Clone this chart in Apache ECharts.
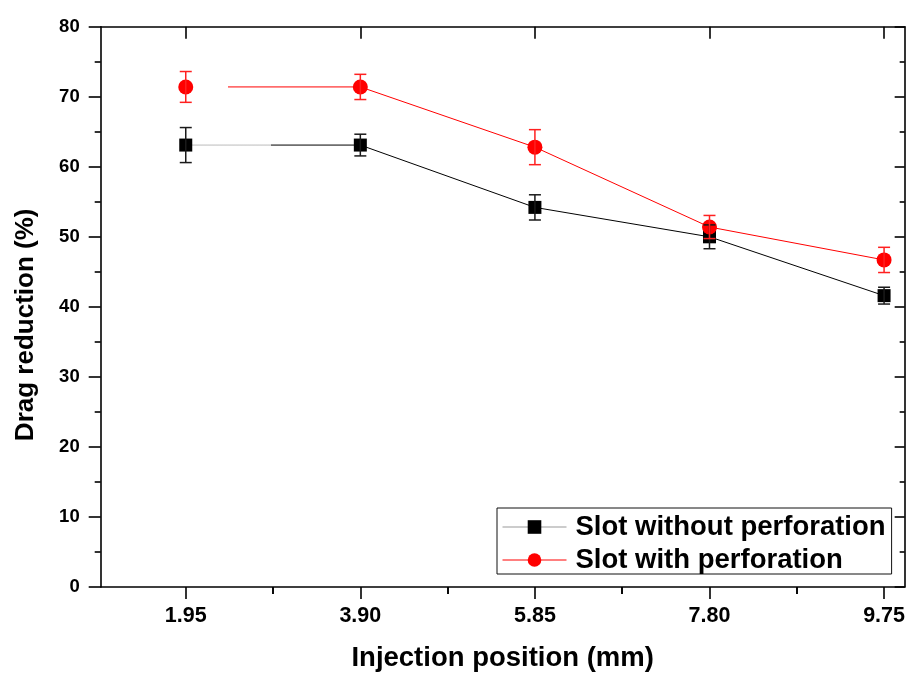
<!DOCTYPE html>
<html>
<head>
<meta charset="utf-8">
<script src="https://cdn.jsdelivr.net/npm/echarts@6/dist/echarts.min.js"></script>
<style>
  html, body { margin: 0; padding: 0; background: #fff; }
  #chart { width: 908px; height: 677px; }
</style>
</head>
<body>
<div id="chart"></div>
<script>
// Injection positions (mm) and the tick marks of the x axis
const positions = [1.95, 3.90, 5.85, 7.80, 9.75];
const minorPositions = [2.925, 4.875, 6.825, 8.775];

// Drag reduction (%) with error-bar half widths
const withoutPerf = [63.1, 63.1, 54.2, 50.0, 41.6];
const withoutPerfErr = [2.5, 1.55, 1.8, 1.7, 1.2];
const withPerf = [71.4, 71.4, 62.8, 51.4, 46.7];
const withPerfErr = [2.2, 1.8, 2.5, 1.65, 1.8];

const seriesNames = ['Slot without perforation', 'Slot with perforation'];

const FONT = '"Liberation Sans", Arial, sans-serif';
const AXIS = '#000';

function pairs(xs, ys) { return xs.map((x, i) => [x, ys[i]]); }

// Vertical error bars with caps, placed through the axes' own scales
function errorBars(name, values, errors, color) {
  return {
    type: 'custom',
    name: name,
    silent: true,
    z: 4,
    data: positions.map((x, i) => [x, values[i] - errors[i], values[i] + errors[i]]),
    encode: { x: 0, y: [1, 2] },
    renderItem: function (params, api) {
      const x = api.value(0);
      const lo = api.coord([x, api.value(1)]);
      const hi = api.coord([x, api.value(2)]);
      const half = 6;
      const style = { stroke: color, lineWidth: 1.5 };
      return {
        type: 'group',
        children: [
          { type: 'line', shape: { x1: lo[0], y1: lo[1], x2: hi[0], y2: hi[1] }, style: style },
          { type: 'line', shape: { x1: lo[0] - half, y1: lo[1], x2: lo[0] + half, y2: lo[1] }, style: style },
          { type: 'line', shape: { x1: hi[0] - half, y1: hi[1], x2: hi[0] + half, y2: hi[1] }, style: style }
        ]
      };
    }
  };
}

function xAxisDef(pos, values, len, inside, withLabels, extra) {
  return Object.assign({
    type: 'value',
    position: pos,
    min: 1,
    max: 9.98,
    axisLine: { show: true, onZero: false, lineStyle: { color: AXIS, width: 1.6 } },
    axisTick: { show: true, inside: inside, length: len, customValues: values, lineStyle: { color: AXIS, width: 1.6 } },
    axisLabel: withLabels ? {
      show: true, customValues: values, margin: 18,
      color: '#000', fontSize: 21.5, fontWeight: 'bold', fontFamily: FONT,
      formatter: v => v.toFixed(2)
    } : { show: false },
    splitLine: { show: false }
  }, extra || {});
}

function yAxisDef(pos, len, minorLen, inside, withLabels, extra) {
  return Object.assign({
    type: 'value',
    position: pos,
    min: 0,
    max: 80,
    interval: 10,
    axisLine: { show: true, onZero: false, lineStyle: { color: AXIS, width: 1.6 } },
    axisTick: { show: true, inside: inside, length: len, lineStyle: { color: AXIS, width: 1.6 } },
    minorTick: { show: true, splitNumber: 2, length: minorLen, lineStyle: { color: AXIS, width: 1.6 } },
    axisLabel: withLabels ? {
      show: true, margin: 21,
      color: '#000', fontSize: 18.5, fontWeight: 'bold', fontFamily: FONT
    } : { show: false },
    splitLine: { show: false },
    minorSplitLine: { show: false }
  }, extra || {});
}

const chart = echarts.init(document.getElementById('chart'), null, { renderer: 'canvas' });

chart.setOption({
  backgroundColor: '#fff',
  animation: false,
  grid: { left: 100.7, right: 2, top: 26.7, bottom: 89, containLabel: false },
  legend: {
    orient: 'vertical',
    left: 497,
    top: 508,
    padding: [5, 6, 0, 5],
    itemWidth: 64,
    itemHeight: 17,
    itemGap: 5,
    borderColor: '#111',
    borderWidth: 1,
    backgroundColor: '#fff',
    selectedMode: false,
    textStyle: { color: '#000', fontSize: 27.5, fontWeight: 'bold', fontFamily: FONT, lineHeight: 26, padding: [0, 0, 0, 4] },
    data: [
      { name: seriesNames[0], itemStyle: { color: '#000' }, lineStyle: { color: '#999', width: 1 } },
      { name: seriesNames[1], itemStyle: { color: '#ff0000' }, lineStyle: { color: '#ff0000', width: 1 } }
    ]
  },
  xAxis: [
    xAxisDef('bottom', positions, 12, false, true, {
      name: 'Injection position (mm)',
      nameLocation: 'middle',
      nameGap: 57,
      nameTextStyle: { color: '#000', fontSize: 27.5, fontWeight: 'bold', fontFamily: FONT }
    }),
    xAxisDef('bottom', minorPositions, 7, false, false, { axisLine: { show: false } }),
    xAxisDef('top', positions, 12, true, false),
    xAxisDef('top', minorPositions, 7, true, false, { axisLine: { show: false } })
  ],
  yAxis: [
    yAxisDef('left', 12, 6, false, true, {
      name: 'Drag reduction (%)',
      nameLocation: 'middle',
      nameGap: 62,
      nameTextStyle: { color: '#000', fontSize: 26, fontWeight: 'bold', fontFamily: FONT, padding: [0, 36, 0, 0] }
    }),
    yAxisDef('right', 10, 5, true, false)
  ],
  series: [
    {
      name: seriesNames[0],
      type: 'line',
      z: 2,
      data: pairs(positions, withoutPerf),
      symbol: 'rect',
      symbolSize: 13,
      itemStyle: { color: '#000' },
      lineStyle: {
        width: 1,
        // first stretch of the connecting line is drawn in a pale grey
        color: new echarts.graphic.LinearGradient(0, 0, 1, 0, [
          { offset: 0, color: '#bbbbbb' },
          { offset: 0.125, color: '#bbbbbb' },
          { offset: 0.125, color: '#000000' },
          { offset: 1, color: '#000000' }
        ])
      }
    },
    {
      name: seriesNames[1],
      type: 'line',
      z: 3,
      data: pairs(positions, withPerf),
      symbol: 'circle',
      symbolSize: 15,
      itemStyle: { color: '#ff0000' },
      lineStyle: {
        width: 1,
        // the line only begins a little to the right of the first point
        color: new echarts.graphic.LinearGradient(0, 0, 1, 0, [
          { offset: 0, color: 'rgba(255,0,0,0)' },
          { offset: 0.063, color: 'rgba(255,0,0,0)' },
          { offset: 0.063, color: '#ff0000' },
          { offset: 1, color: '#ff0000' }
        ])
      }
    },
    errorBars('without-err', withoutPerf, withoutPerfErr, '#1a1a1a'),
    errorBars('with-err', withPerf, withPerfErr, '#ff2020')
  ]
});
</script>
</body>
</html>
